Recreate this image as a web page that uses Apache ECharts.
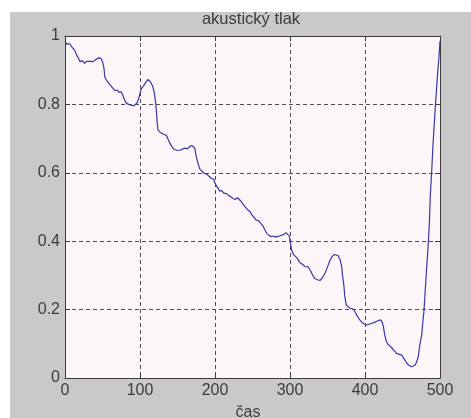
<!DOCTYPE html>
<html>
<head>
<meta charset="utf-8">
<script src="https://cdn.jsdelivr.net/npm/echarts@6/dist/echarts.min.js"></script>
<style>
html,body{margin:0;padding:0;background:#ffffff;width:471px;height:418px;overflow:hidden;}
#panel{position:absolute;left:10px;top:12px;width:461px;height:406px;background:#c9c9c9;}
#chart{position:absolute;left:0;top:0;width:471px;height:418px;}
</style>
</head>
<body>
<div id="panel"></div>
<div id="chart"></div>
<script>
var titleText = 'akustický tlak';
var xName = 'čas';
var xTicks = [0, 100, 200, 300, 400, 500];
var yTicks = [0, 0.2, 0.4, 0.6, 0.8, 1];

var xs = [0,3,6,9,11,13,15.5,18,20,23,26,29,31,34,37,40,42,45,48,50,52,53,55,58,61,64,67,70,72,75,77,79,82,85,88,90,92,94,96,98,100,102,105,108,111,114,117,119,121,122,123,124,127,129,132,135,137,140,143,146,149,151,154,157,160,163,166,169,171,173,175,177,180,183,186,189,192,195,198,200,203,206,209,212,215,218,221,224,227,230,232,235,238,241,244,247,249,252,255,258,261,264,266,269,272,275,278,281,284,287,289,292,294.7,297,299,301,302,305,309,313,317,320,324,327,329,331,333,336,338,340,342,344,347,350,353,356,359,361,364,367,369,370,372,373,375,377,380,382,385,387,389,391,393,396,399,401,403,406,409,412,415,418,421,423,424.5,426,428,430,433,436,439,442,445,447,449,451,453,455,458,460,462,464,467,469,471,473,475.6,477,478.7,480,482,484,485.8,487,489,490.5,492.4,494,495.6,497,498.7,500];
var ys = [0.985,0.975,0.978,0.968,0.972,0.958,0.944,0.935,0.925,0.928,0.920,0.926,0.922,0.926,0.925,0.930,0.932,0.936,0.934,0.925,0.905,0.881,0.872,0.862,0.855,0.847,0.840,0.842,0.835,0.837,0.827,0.815,0.803,0.800,0.798,0.802,0.796,0.798,0.804,0.815,0.832,0.847,0.855,0.866,0.873,0.866,0.852,0.835,0.803,0.775,0.745,0.725,0.718,0.715,0.712,0.710,0.700,0.686,0.675,0.668,0.666,0.668,0.666,0.670,0.672,0.670,0.676,0.680,0.678,0.672,0.648,0.630,0.610,0.604,0.598,0.596,0.590,0.584,0.582,0.569,0.558,0.547,0.548,0.540,0.540,0.534,0.530,0.525,0.522,0.527,0.530,0.516,0.506,0.498,0.491,0.486,0.477,0.470,0.462,0.460,0.452,0.445,0.435,0.423,0.417,0.413,0.415,0.412,0.414,0.416,0.418,0.420,0.425,0.420,0.415,0.390,0.374,0.360,0.352,0.338,0.332,0.326,0.325,0.315,0.306,0.298,0.291,0.288,0.284,0.285,0.289,0.296,0.308,0.325,0.342,0.355,0.361,0.363,0.358,0.345,0.325,0.300,0.267,0.240,0.213,0.208,0.204,0.207,0.201,0.192,0.184,0.177,0.170,0.163,0.158,0.160,0.155,0.158,0.160,0.162,0.165,0.168,0.170,0.162,0.150,0.130,0.110,0.100,0.094,0.087,0.080,0.072,0.070,0.065,0.067,0.062,0.053,0.046,0.038,0.034,0.033,0.030,0.038,0.048,0.062,0.095,0.126,0.160,0.199,0.245,0.316,0.380,0.450,0.530,0.608,0.675,0.745,0.800,0.852,0.895,0.940,0.985];

var seriesData = xs.map(function (x, i) { return [x, ys[i]]; });

var FONT = "'Liberation Sans', Arial, sans-serif";
var TXT = '#3c3c3c';
var AX = '#3a3a3a';

function xAxisCfg(pos, labels) {
  return {
    type: 'value', position: pos, min: xTicks[0], max: xTicks[xTicks.length - 1], interval: 100,
    axisLine: { show: true, onZero: false, lineStyle: { color: AX, width: 1 } },
    axisTick: { show: true, inside: true, length: 5, lineStyle: { color: AX } },
    axisLabel: { show: labels, margin: 5, color: TXT, fontSize: 16, fontFamily: FONT },
    splitLine: { show: labels, lineStyle: { color: '#505050', type: [4, 3], width: 1 } }
  };
}
function yAxisCfg(pos, labels) {
  return {
    type: 'value', position: pos, min: yTicks[0], max: yTicks[yTicks.length - 1], interval: 0.2,
    axisLine: { show: true, onZero: false, lineStyle: { color: AX, width: 1 } },
    axisTick: { show: true, inside: true, length: 5, lineStyle: { color: AX } },
    axisLabel: { show: labels, margin: 5, color: TXT, fontSize: 16, fontFamily: FONT,
      formatter: function (v) { return String(Math.round(v * 10) / 10); } },
    splitLine: { show: labels, lineStyle: { color: '#505050', type: [4, 3], width: 1 } }
  };
}

var chart = echarts.init(document.getElementById('chart'), null, { renderer: 'canvas' });
chart.setOption({
  animation: false,
  backgroundColor: 'transparent',
  textStyle: { fontFamily: FONT },
  grid: { left: 65, top: 36, right: 31, bottom: 40, show: true, backgroundColor: '#fcf6f8', borderWidth: 0 },
  xAxis: [xAxisCfg('bottom', true), xAxisCfg('top', false)],
  yAxis: [yAxisCfg('left', true), yAxisCfg('right', false)],
  graphic: [
    { type: 'text', style: { text: titleText, x: 251, y: 19, textAlign: 'center', textVerticalAlign: 'middle', fill: TXT, font: '16.5px ' + FONT } },
    { type: 'text', style: { text: xName, x: 248, y: 413, textAlign: 'center', textVerticalAlign: 'middle', fill: TXT, font: '16px ' + FONT } }
  ],
  series: [{
    type: 'line', xAxisIndex: 0, yAxisIndex: 0, data: seriesData, showSymbol: false, symbol: 'none',
    lineStyle: { color: '#3838a8', width: 1.2 }, z: 5
  }]
});
</script>
</body>
</html>
